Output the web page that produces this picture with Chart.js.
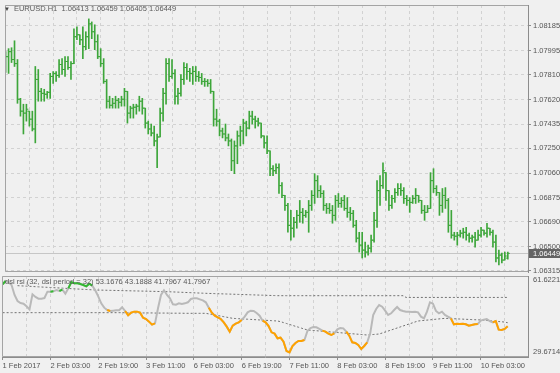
<!DOCTYPE html>
<html lang="en">
<head>
<meta charset="UTF-8">
<title>EURUSD H1 with dsl rsi</title>
<script src="https://cdn.jsdelivr.net/npm/chart.js"></script>
<style>
  body { margin: 0; background: #f0f0f0; font-family: "Liberation Sans", Arial, sans-serif; }
  #wrap { position: relative; width: 560px; height: 373px; background: #f0f0f0; overflow: hidden; }
  #priceChart { position: absolute; left: 0; top: 0; }
  #rsiChart { position: absolute; left: 0; top: 274px; }
  .caption { position: absolute; font-size: 7.5px; line-height: 9px; color: #5a5a5a; white-space: nowrap; }
  #mainCaption { left: 4px; top: 4px; }
  #mainCaption .tri { font-size: 6px; color: #444; margin-right: 4px; }
  #rsiCaption { left: 5px; top: 277px; }
</style>
</head>
<body>
<div id="wrap">
  <canvas id="priceChart" width="560" height="280"></canvas>
  <canvas id="rsiChart" width="560" height="99"></canvas>
  <div class="caption" id="mainCaption"><span class="tri">&#9660;</span>EURUSD.H1&nbsp; 1.06413 1.06459 1.06405 1.06449</div>
  <div class="caption" id="rsiCaption">dsl rsi (32, dsl period = 32) 53.1676 43.1888 41.7967 41.7967</div>
</div>

<script>
  // bar index of each time label (H1 bars from 1 Feb 11:00)
  const timeLabels = ["1 Feb 2017", "2 Feb 03:00", "2 Feb 19:00", "3 Feb 11:00", "6 Feb 03:00", "6 Feb 19:00",
                      "7 Feb 11:00", "8 Feb 03:00", "8 Feb 19:00", "9 Feb 11:00", "10 Feb 03:00"];
  const labelBars = [0, 16, 32, 48, 64, 80, 96, 112, 128, 144, 160];

  const priceTicks = [1.08185, 1.07995, 1.07810, 1.07620, 1.07435, 1.07250, 1.07060, 1.06875, 1.06690, 1.06500, 1.06315];
  const lastPrice = 1.06449;
  const rsiRange = [61.6221, 29.6714];

  const opens = [
    1.07852, 1.07950, 1.07988, 1.07928, 1.07897, 1.07625, 1.07534, 1.07519, 1.07534, 1.07473,
    1.07398, 1.07776, 1.07685, 1.07670, 1.07663, 1.07678, 1.07799, 1.07822, 1.07807, 1.07890,
    1.07852, 1.07913, 1.07867, 1.07897, 1.08102, 1.08117, 1.08079, 1.08026, 1.08102, 1.08200,
    1.08140, 1.08064, 1.07950, 1.07897, 1.07761, 1.07610, 1.07579, 1.07594, 1.07617, 1.07602,
    1.07625, 1.07685, 1.07519, 1.07557, 1.07564, 1.07572, 1.07610, 1.07557, 1.07443, 1.07398,
    1.07367, 1.07307, 1.07337, 1.07519, 1.07670, 1.07897, 1.07799, 1.07822, 1.07648, 1.07670,
    1.07776, 1.07867, 1.07837, 1.07822, 1.07837, 1.07799, 1.07791, 1.07761, 1.07761, 1.07746,
    1.07685, 1.07473, 1.07458, 1.07383, 1.07360, 1.07330, 1.07307, 1.07156, 1.07269, 1.07345,
    1.07383, 1.07443, 1.07405, 1.07496, 1.07473, 1.07458, 1.07443, 1.07345, 1.07292, 1.07231,
    1.07095, 1.07080, 1.07103, 1.06966, 1.06891, 1.06815, 1.06663, 1.06641, 1.06686, 1.06739,
    1.06762, 1.06739, 1.06762, 1.06815, 1.06891, 1.07004, 1.06928, 1.06906, 1.06815, 1.06792,
    1.06777, 1.06739, 1.06853, 1.06830, 1.06853, 1.06792, 1.06762, 1.06754, 1.06663, 1.06565,
    1.06512, 1.06474, 1.06459, 1.06489, 1.06550, 1.06701, 1.06928, 1.06966, 1.07065, 1.06928,
    1.06815, 1.06868, 1.06913, 1.06944, 1.06928, 1.06868, 1.06853, 1.06838, 1.06868, 1.06891,
    1.06853, 1.06777, 1.06762, 1.06792, 1.07004, 1.06944, 1.06913, 1.06815, 1.06891, 1.06853,
    1.06663, 1.06588, 1.06580, 1.06588, 1.06603, 1.06610, 1.06588, 1.06565, 1.06573, 1.06550,
    1.06588, 1.06626, 1.06603, 1.06641, 1.06610, 1.06535, 1.06414, 1.06436, 1.06398, 1.06413
  ];
  const highs = [
    1.07988, 1.08011, 1.08018, 1.08071, 1.07928, 1.07632, 1.07587, 1.07587, 1.07534, 1.07534,
    1.07875, 1.07852, 1.07708, 1.07701, 1.07685, 1.07822, 1.07837, 1.07837, 1.07928, 1.07935,
    1.07950, 1.07950, 1.07913, 1.08162, 1.08177, 1.08117, 1.08177, 1.08140, 1.08238, 1.08215,
    1.08193, 1.08117, 1.08011, 1.07935, 1.07776, 1.07648, 1.07632, 1.07648, 1.07632, 1.07648,
    1.07708, 1.07685, 1.07572, 1.07587, 1.07587, 1.07648, 1.07632, 1.07557, 1.07458, 1.07436,
    1.07420, 1.07360, 1.07557, 1.07708, 1.07935, 1.07935, 1.07928, 1.07852, 1.07708, 1.07814,
    1.07905, 1.07897, 1.07860, 1.07875, 1.07875, 1.07837, 1.07822, 1.07784, 1.07776, 1.07776,
    1.07685, 1.07549, 1.07473, 1.07405, 1.07436, 1.07360, 1.07322, 1.07307, 1.07383, 1.07420,
    1.07473, 1.07458, 1.07534, 1.07534, 1.07496, 1.07481, 1.07443, 1.07345, 1.07345, 1.07231,
    1.07118, 1.07133, 1.07133, 1.06989, 1.06891, 1.06830, 1.06777, 1.06724, 1.06777, 1.06853,
    1.06792, 1.06777, 1.06853, 1.06928, 1.07057, 1.07042, 1.06966, 1.06928, 1.06830, 1.06830,
    1.06815, 1.06891, 1.06906, 1.06875, 1.06891, 1.06875, 1.06800, 1.06777, 1.06701, 1.06610,
    1.06610, 1.06535, 1.06512, 1.06588, 1.06762, 1.07004, 1.07042, 1.07140, 1.07065, 1.06928,
    1.06891, 1.06944, 1.06981, 1.06981, 1.06951, 1.06891, 1.06875, 1.06891, 1.06944, 1.06891,
    1.06853, 1.06815, 1.06815, 1.07065, 1.07095, 1.06966, 1.06913, 1.06944, 1.06951, 1.06868,
    1.06777, 1.06610, 1.06610, 1.06626, 1.06641, 1.06648, 1.06603, 1.06588, 1.06610, 1.06626,
    1.06648, 1.06626, 1.06679, 1.06641, 1.06626, 1.06588, 1.06474, 1.06451, 1.06459, 1.06459
  ];
  const lows = [
    1.07829, 1.07822, 1.07905, 1.07875, 1.07594, 1.07496, 1.07360, 1.07458, 1.07420, 1.07383,
    1.07292, 1.07610, 1.07610, 1.07610, 1.07632, 1.07632, 1.07746, 1.07761, 1.07791, 1.07814,
    1.07799, 1.07852, 1.07776, 1.07897, 1.08079, 1.08041, 1.07935, 1.08003, 1.08011, 1.08087,
    1.08003, 1.07935, 1.07875, 1.07746, 1.07557, 1.07557, 1.07557, 1.07557, 1.07557, 1.07572,
    1.07572, 1.07443, 1.07481, 1.07481, 1.07511, 1.07534, 1.07511, 1.07405, 1.07360, 1.07345,
    1.07269, 1.07103, 1.07337, 1.07458, 1.07587, 1.07761, 1.07784, 1.07587, 1.07587, 1.07648,
    1.07738, 1.07776, 1.07761, 1.07738, 1.07761, 1.07761, 1.07738, 1.07723, 1.07723, 1.07670,
    1.07420, 1.07420, 1.07345, 1.07330, 1.07307, 1.07269, 1.07080, 1.07057, 1.07133, 1.07269,
    1.07284, 1.07345, 1.07398, 1.07436, 1.07405, 1.07420, 1.07330, 1.07254, 1.07209, 1.07042,
    1.07042, 1.07057, 1.06906, 1.06875, 1.06777, 1.06610, 1.06550, 1.06573, 1.06641, 1.06686,
    1.06679, 1.06724, 1.06610, 1.06777, 1.06830, 1.06875, 1.06875, 1.06777, 1.06754, 1.06754,
    1.06679, 1.06701, 1.06800, 1.06800, 1.06777, 1.06724, 1.06701, 1.06648, 1.06535, 1.06459,
    1.06414, 1.06421, 1.06436, 1.06459, 1.06535, 1.06648, 1.06815, 1.06944, 1.06853, 1.06777,
    1.06792, 1.06838, 1.06891, 1.06891, 1.06830, 1.06815, 1.06762, 1.06830, 1.06830, 1.06838,
    1.06754, 1.06701, 1.06762, 1.06792, 1.06913, 1.06891, 1.06739, 1.06762, 1.06792, 1.06610,
    1.06565, 1.06550, 1.06512, 1.06573, 1.06565, 1.06550, 1.06535, 1.06535, 1.06497, 1.06550,
    1.06573, 1.06588, 1.06573, 1.06588, 1.06497, 1.06383, 1.06361, 1.06376, 1.06398, 1.06405
  ];
  const closes = [
    1.07950, 1.07988, 1.07928, 1.07897, 1.07625, 1.07534, 1.07519, 1.07549, 1.07473, 1.07398,
    1.07776, 1.07685, 1.07670, 1.07663, 1.07678, 1.07799, 1.07822, 1.07807, 1.07890, 1.07852,
    1.07913, 1.07867, 1.07897, 1.08102, 1.08117, 1.08079, 1.08026, 1.08102, 1.08200, 1.08140,
    1.08064, 1.07950, 1.07897, 1.07761, 1.07610, 1.07579, 1.07594, 1.07617, 1.07602, 1.07625,
    1.07685, 1.07519, 1.07557, 1.07564, 1.07572, 1.07610, 1.07557, 1.07443, 1.07398, 1.07367,
    1.07307, 1.07337, 1.07519, 1.07670, 1.07897, 1.07799, 1.07822, 1.07648, 1.07670, 1.07776,
    1.07867, 1.07837, 1.07822, 1.07837, 1.07799, 1.07791, 1.07761, 1.07761, 1.07746, 1.07685,
    1.07473, 1.07458, 1.07383, 1.07360, 1.07330, 1.07307, 1.07156, 1.07269, 1.07345, 1.07383,
    1.07443, 1.07405, 1.07496, 1.07473, 1.07458, 1.07443, 1.07345, 1.07292, 1.07231, 1.07095,
    1.07080, 1.07103, 1.06966, 1.06891, 1.06815, 1.06663, 1.06641, 1.06686, 1.06739, 1.06762,
    1.06739, 1.06762, 1.06815, 1.06891, 1.07004, 1.06928, 1.06906, 1.06815, 1.06792, 1.06777,
    1.06739, 1.06853, 1.06830, 1.06853, 1.06792, 1.06762, 1.06754, 1.06663, 1.06565, 1.06512,
    1.06474, 1.06459, 1.06489, 1.06550, 1.06701, 1.06928, 1.06966, 1.07080, 1.06928, 1.06815,
    1.06868, 1.06913, 1.06944, 1.06928, 1.06868, 1.06853, 1.06838, 1.06868, 1.06891, 1.06853,
    1.06777, 1.06762, 1.06792, 1.07004, 1.06944, 1.06913, 1.06815, 1.06891, 1.06853, 1.06663,
    1.06588, 1.06580, 1.06588, 1.06603, 1.06610, 1.06588, 1.06565, 1.06573, 1.06550, 1.06588,
    1.06626, 1.06603, 1.06641, 1.06610, 1.06535, 1.06414, 1.06436, 1.06398, 1.06429, 1.06449
  ];

  const rsi = [
    58.34, 59.65, 59.12, 58.07, 54.13, 51.76, 50.97, 50.71, 49.66, 48.47,
    54.39, 53.34, 52.68, 52.68, 52.94, 55.44, 55.44, 55.57, 56.10, 55.71,
    56.23, 54.65, 56.76, 59.21, 58.73, 58.73, 58.47, 58.07, 57.55, 58.60,
    57.81, 55.97, 53.61, 50.84, 49.13, 48.21, 47.82, 47.95, 48.08, 48.08,
    49.26, 47.82, 46.11, 47.16, 47.55, 47.55, 47.16, 45.19, 44.66, 43.61,
    42.43, 42.95, 48.87, 54.13, 55.97, 54.13, 52.81, 50.45, 50.31, 50.84,
    50.58, 50.84, 51.24, 52.55, 52.81, 52.81, 52.42, 52.02, 51.24, 49.13,
    47.16, 45.98, 45.32, 44.66, 43.35, 41.64, 39.66, 42.03, 42.82, 43.35,
    44.27, 45.58, 47.29, 47.95, 47.82, 47.03, 45.98, 44.00, 43.35, 41.90,
    39.40, 38.88, 37.04, 37.30, 35.72, 32.04, 31.51, 34.01, 35.19, 35.98,
    35.98, 36.38, 39.93, 41.11, 41.50, 41.37, 40.72, 40.06, 39.66, 38.88,
    38.35, 39.01, 40.58, 41.11, 40.98, 39.66, 38.09, 35.46, 35.19, 34.41,
    32.83, 34.01, 35.46, 39.01, 46.24, 48.61, 50.18, 49.53, 47.95, 46.24,
    46.90, 48.21, 49.39, 48.21, 47.82, 47.55, 47.55, 47.42, 47.55, 47.29,
    45.58, 44.92, 47.55, 51.24, 50.71, 47.82, 46.90, 47.55, 46.24, 45.58,
    44.92, 42.56, 42.82, 42.69, 42.82, 42.56, 42.03, 42.29, 42.56, 42.69,
    44.00, 44.40, 44.66, 43.87, 43.35, 43.87, 40.45, 40.32, 40.72, 41.80
  ];
  // 1 = above signal (green), -1 = below signal (orange), 0 = neutral
  const rsiState = [
    1, 1, 0, 0, 0, 0, 0, 0, 0, 0,
    0, 0, 0, 0, 0, 0, 1, 1, 0, 1,
    1, 0, 1, 1, 1, 1, 1, 1, 1, 1,
    1, 0, 0, 0, 0, -1, -1, 0, 0, 0,
    0, -1, -1, -1, -1, -1, -1, -1, -1, -1,
    -1, -1, 0, 0, 0, 0, 0, 0, 0, 0,
    0, 0, 0, 0, 0, 0, 0, 0, 0, -1,
    -1, -1, -1, -1, -1, -1, -1, -1, -1, -1,
    -1, 0, 0, 0, 0, 0, 0, -1, -1, -1,
    -1, -1, -1, -1, -1, -1, -1, -1, -1, -1,
    -1, -1, 0, 0, 0, 0, 0, -1, -1, -1,
    -1, -1, 0, 0, 0, -1, -1, -1, -1, -1,
    -1, -1, -1, 0, 0, 0, 0, 0, 0, 0,
    0, 0, 0, 0, 0, 0, 0, 0, 0, 0,
    0, 0, 0, 0, 0, 0, 0, 0, 0, 0,
    -1, -1, -1, -1, -1, -1, -1, -1, -1, -1,
    0, 0, 0, 0, -1, -1, -1, -1, -1, -1
  ];
  const levelUp = [
    null, null, null, null, null, 57.81, 57.74, 57.68, 57.61, 57.55,
    57.48, 57.41, 57.35, 57.28, 57.22, 57.15, 57.09, 57.02, 56.95, 56.89,
    56.82, 56.76, 56.69, 56.63, 56.56, 56.49, 56.43, 56.36, 56.30, 56.23,
    56.17, 56.10, 56.07, 56.05, 56.02, 55.99, 55.96, 55.94, 55.91, 55.88,
    55.85, 55.83, 55.80, 55.77, 55.74, 55.72, 55.69, 55.66, 55.63, 55.61,
    55.58, 55.55, 55.52, 55.50, 55.47, 55.44, 55.39, 55.34, 55.29, 55.24,
    55.19, 55.14, 55.09, 55.04, 54.99, 54.94, 54.89, 54.84, 54.79, 54.75,
    54.71, 54.67, 54.63, 54.59, 54.56, 54.52, 54.48, 54.44, 54.40, 54.36,
    54.32, 54.28, 54.25, 54.21, 54.17, 54.13, 54.09, 54.05, 54.01, 53.97,
    53.94, 53.90, 53.86, 53.86, 53.86, 53.86, 53.86, 53.86, 53.86, 53.86,
    53.86, 53.86, 53.86, 53.86, 53.86, 53.86, 53.86, 53.86, 53.86, 53.86,
    53.86, 53.86, 53.86, 53.86, 53.86, 53.86, 53.86, 53.86, 53.86, 53.86,
    53.86, 53.86, 53.86, 53.86, 53.86, 53.86, 53.86, 53.86, 53.86, 53.86,
    53.86, 53.86, 53.86, 53.86, 53.86, 53.17, 53.17, 53.17, 53.17, 53.17,
    53.17, 53.17, 53.17, 53.17, 53.17, 53.17, 53.17, 53.17, 53.17, 53.17,
    53.17, 53.17, 53.17, 53.17, 53.17, 53.17, 53.17, 53.17, 53.17, 53.17,
    53.17, 53.17, 53.17, 53.17, 53.17, 53.17, 53.17, 53.17, 53.17, 53.17
  ];
  const levelDown = [
    47.16, 47.16, 47.16, 47.16, 47.16, 47.16, 47.16, 47.16, 47.16, 47.16,
    47.16, 47.16, 47.16, 47.16, 47.16, 47.16, 47.16, 47.16, 47.16, 47.16,
    47.16, 47.16, 47.16, 47.16, 47.16, 47.16, 47.16, 47.16, 47.16, 47.16,
    47.16, 47.16, 47.16, 47.16, 47.16, 47.16, 47.16, 47.16, 47.16, 47.16,
    47.16, 47.10, 47.10, 47.10, 47.10, 47.10, 47.05, 47.05, 47.05, 47.05,
    47.05, 47.00, 47.00, 47.00, 47.00, 47.00, 46.95, 46.95, 46.95, 46.95,
    46.95, 46.90, 46.90, 46.90, 46.90, 46.90, 46.90, 46.90, 46.90, 46.68,
    46.46, 46.24, 46.02, 45.80, 45.58, 45.36, 45.14, 44.92, 44.85, 44.78,
    44.71, 44.64, 44.57, 44.50, 44.43, 44.36, 44.29, 44.22, 44.15, 44.08,
    44.01, 43.94, 43.87, 43.61, 43.24, 42.88, 42.51, 42.15, 41.78, 41.42,
    41.05, 40.69, 40.32, 40.22, 40.12, 40.03, 39.93, 39.83, 39.73, 39.63,
    39.53, 39.43, 39.34, 39.24, 39.14, 39.04, 38.94, 38.84, 38.74, 38.65,
    38.55, 38.45, 38.35, 38.45, 38.55, 38.64, 38.74, 39.13, 39.53, 39.92,
    40.32, 40.71, 41.11, 41.50, 41.90, 42.29, 42.69, 43.08, 43.48, 43.87,
    43.99, 44.10, 44.22, 44.34, 44.45, 44.57, 44.69, 44.81, 44.92, 44.87,
    44.81, 44.76, 44.70, 44.65, 44.60, 44.54, 44.49, 44.43, 44.38, 44.33,
    44.27, 44.17, 44.07, 43.97, 43.86, 43.76, 43.66, 43.56, 43.45, 43.19
  ];

  const barGreen = "#3da63a";
  const gridColor = "#d2d2d2";
  const frameColor = "#a4a4a4";
  const axisColor = "#8c8c8c";
  const textColor = "#555555";
  const tickFont = { family: "Liberation Sans", size: 7.5 };
  const xMin = -0.2, xMax = 175.8;

  function gridTicks(scale) {
    const t = [];
    for (let i = 0; i <= 168; i += 8) t.push({ value: i });
    scale.ticks = t;
  }
  function xy(arr, shift) {
    return arr.map((v, i) => ({ x: i + (shift || 0), y: v }));
  }

  // left / top / bottom frame lines like the terminal window
  const framePlugin = {
    id: "frame",
    afterDraw(chart) {
      const a = chart.chartArea, ctx = chart.ctx;
      ctx.save();
      ctx.strokeStyle = frameColor;
      ctx.lineWidth = 1;
      ctx.beginPath();
      ctx.moveTo(a.right, a.top + 0.5);
      ctx.lineTo(a.left + 0.5, a.top + 0.5);
      ctx.lineTo(a.left + 0.5, a.bottom - 0.5);
      ctx.lineTo(a.right, a.bottom - 0.5);
      ctx.stroke();
      ctx.restore();
    }
  };

  // bid line and price box on the right axis
  const bidPlugin = {
    id: "bid",
    beforeDatasetsDraw(chart) {
      const a = chart.chartArea, ctx = chart.ctx;
      const y = Math.round(chart.scales.y.getPixelForValue(lastPrice)) + 0.5;
      ctx.save();
      ctx.strokeStyle = "#c6c6c6";
      ctx.lineWidth = 1;
      ctx.beginPath();
      ctx.moveTo(a.left, y);
      ctx.lineTo(a.right, y);
      ctx.stroke();
      ctx.restore();
    },
    afterDraw(chart) {
      const a = chart.chartArea, ctx = chart.ctx;
      const y = Math.round(chart.scales.y.getPixelForValue(lastPrice));
      ctx.save();
      ctx.fillStyle = "#646464";
      ctx.fillRect(a.right + 1, y - 4, chart.width - a.right - 1, 9);
      ctx.fillStyle = "#ffffff";
      ctx.font = "7.5px 'Liberation Sans'";
      ctx.textBaseline = "middle";
      ctx.fillText(lastPrice.toFixed(5), a.right + 5, y + 0.5);
      ctx.restore();
    }
  };

  new Chart(document.getElementById("priceChart"), {
    type: "bar",
    data: {
      datasets: [
        {
          type: "bar",
          data: highs.map((h, i) => ({ x: i, y: [lows[i], h] })),
          backgroundColor: barGreen,
          borderWidth: 0,
          barThickness: 1
        },
        {
          type: "scatter",
          data: xy(opens, -0.33),
          pointStyle: "line",
          pointRadius: 1,
          pointBorderColor: barGreen,
          pointBackgroundColor: barGreen,
          pointBorderWidth: 1
        },
        {
          type: "scatter",
          data: xy(closes, 0.33),
          pointStyle: "line",
          pointRadius: 1,
          pointBorderColor: barGreen,
          pointBackgroundColor: barGreen,
          pointBorderWidth: 1
        }
      ]
    },
    options: {
      responsive: false,
      animation: false,
      events: [],
      layout: { padding: { left: 2, top: 3, right: 0, bottom: 8 } },
      plugins: { legend: { display: false }, tooltip: { enabled: false } },
      scales: {
        x: {
          type: "linear",
          min: xMin,
          max: xMax,
          offset: false,
          afterBuildTicks: gridTicks,
          afterFit: s => { s.height = 0; s.paddingLeft = 0; s.paddingRight = 0; },
          ticks: { display: false },
          grid: { color: gridColor, drawTicks: false, offset: false },
          border: { display: false, dash: [3, 3] }
        },
        y: {
          position: "right",
          min: 1.06307,
          max: 1.08344,
          afterBuildTicks: s => { s.ticks = priceTicks.map(v => ({ value: v })); },
          afterFit: s => { s.width = 32; s.paddingTop = 0; s.paddingBottom = 0; },
          ticks: { font: tickFont, color: textColor, padding: 2, callback: v => v.toFixed(5) },
          grid: { color: gridColor, tickColor: axisColor, tickLength: 3, tickBorderDash: [] },
          border: { color: axisColor, dash: [3, 3] }
        }
      }
    },
    plugins: [bidPlugin, framePlugin]
  });

  const greenPart = rsi.map((v, i) => rsiState[i] === 1 ? v : null);
  const orangePart = rsi.map((v, i) => rsiState[i] === -1 ? v : null);

  const lineBase = { pointRadius: 0, tension: 0, spanGaps: false, fill: false };

  new Chart(document.getElementById("rsiChart"), {
    type: "line",
    data: {
      datasets: [
        Object.assign({ data: xy(greenPart), borderColor: "#35b933", borderWidth: 2 }, lineBase),
        Object.assign({ data: xy(orangePart), borderColor: "#ffa200", borderWidth: 2 }, lineBase),
        Object.assign({ data: xy(rsi), borderColor: "#b9b9b9", borderWidth: 2 }, lineBase),
        Object.assign({ data: xy(levelUp), borderColor: "#707070", borderWidth: 1, borderDash: [2, 2] }, lineBase),
        Object.assign({ data: xy(levelDown), borderColor: "#707070", borderWidth: 1, borderDash: [2, 2] }, lineBase)
      ]
    },
    options: {
      responsive: false,
      animation: false,
      events: [],
      layout: { padding: { left: 2, top: 2, right: 0, bottom: 2 } },
      plugins: { legend: { display: false }, tooltip: { enabled: false } },
      scales: {
        x: {
          type: "linear",
          min: xMin,
          max: xMax,
          afterBuildTicks: gridTicks,
          afterFit: s => { s.height = 14; s.paddingLeft = 0; s.paddingRight = 0; },
          ticks: {
            font: tickFont,
            color: textColor,
            align: "start",
            autoSkip: false,
            maxRotation: 0,
            padding: 1,
            callback: v => {
              const k = labelBars.indexOf(v);
              return k >= 0 ? timeLabels[k] : "";
            }
          },
          grid: {
            color: gridColor,
            tickLength: 3,
            tickBorderDash: [],
            tickColor: c => (c.tick && labelBars.indexOf(c.tick.value) >= 0) ? axisColor : "rgba(0,0,0,0)"
          },
          border: { color: axisColor, dash: [3, 3] }
        },
        y: {
          position: "right",
          min: rsiRange[1],
          max: rsiRange[0],
          afterBuildTicks: s => {
            const span = rsiRange[0] - rsiRange[1];
            s.ticks = [{ value: rsiRange[0] - span * 0.05 }, { value: rsiRange[1] + span * 0.062 }];
          },
          afterFit: s => { s.width = 32; s.paddingTop = 0; s.paddingBottom = 0; },
          ticks: { font: tickFont, color: textColor, padding: 5, callback: (v, i) => rsiRange[i].toFixed(4) },
          grid: { drawOnChartArea: false, drawTicks: false },
          border: { color: axisColor }
        }
      }
    },
    plugins: [framePlugin]
  });
</script>
</body>
</html>
